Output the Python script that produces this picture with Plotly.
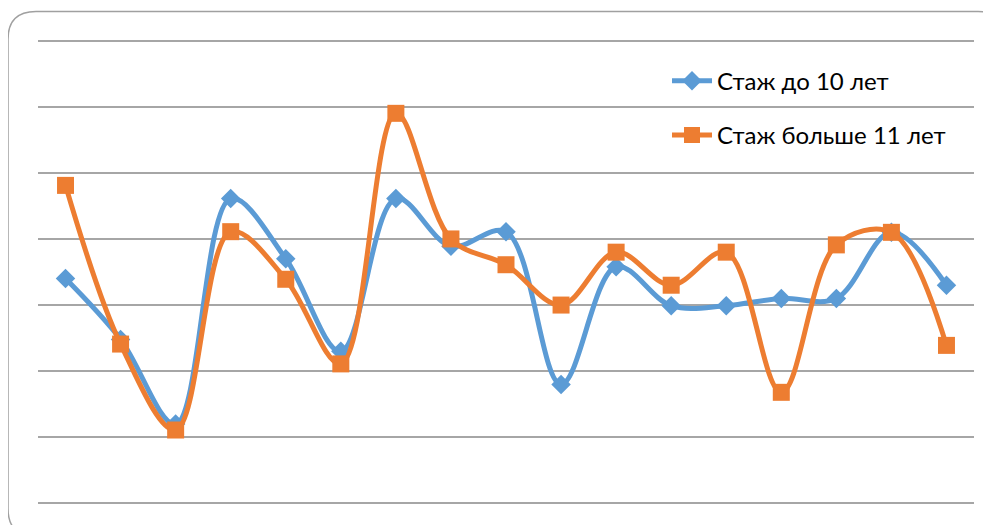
import plotly.graph_objects as go

categories = list(range(1, 18))
stazh_do_10 = [3.40, 2.48, 1.20, 4.61, 3.70, 2.30, 4.61, 3.89, 4.11, 1.80, 3.58, 2.99, 2.99, 3.10, 3.10, 4.10, 3.30]
stazh_bolshe_11 = [4.81, 2.41, 1.11, 4.11, 3.39, 2.11, 5.90, 4.00, 3.61, 3.00, 3.80, 3.30, 3.80, 1.68, 3.91, 4.10, 2.39]
series_names = ["Стаж до 10 лет", "Стаж больше 11 лет"]

W, H = 991, 525
OFF = 7  # page offset of the figure inside the browser window
ml, mt = 37 - OFF, 33.4 - OFF
pw, ph = 936, 475.2
mr, mb = W - ml - pw, H - mt - ph

def px(x):
    return (x - OFF - ml) / pw

def py(y):
    return (H - mb - (y - OFF)) / ph

fig = go.Figure()
fig.add_trace(go.Scatter(
    x=categories, y=stazh_do_10, name=series_names[0], mode="lines+markers",
    line=dict(color="#5B9BD5", width=5, shape="spline", smoothing=1.0),
    marker=dict(symbol="diamond", size=15, color="#5B9BD5"),
    legendgroup="a",
))
fig.add_trace(go.Scatter(
    x=categories, y=stazh_bolshe_11, name=series_names[1], mode="lines+markers",
    line=dict(color="#ED7D31", width=5, shape="spline", smoothing=1.0),
    marker=dict(symbol="square", size=17, color="#ED7D31"),
    legendgroup="b",
))

r = 28
x0, y0, x1, y1 = 7, 11, 1005, 535
path = (f"M {px(x0+r)},{py(y0)} L {px(x1-r)},{py(y0)} Q {px(x1)},{py(y0)} {px(x1)},{py(y0+r)} "
        f"L {px(x1)},{py(y1-r)} Q {px(x1)},{py(y1)} {px(x1-r)},{py(y1)} "
        f"L {px(x0+r)},{py(y1)} Q {px(x0)},{py(y1)} {px(x0)},{py(y1-r)} "
        f"L {px(x0)},{py(y0+r)} Q {px(x0)},{py(y0)} {px(x0+r)},{py(y0)} Z")

fig.update_layout(
    width=W, height=H,
    margin=dict(l=ml, r=mr, t=mt, b=mb),
    paper_bgcolor="white", plot_bgcolor="white",
    font=dict(family="Lato, Liberation Sans, Arial, sans-serif", size=24, color="#000000"),
    xaxis=dict(range=[0.5, 17.5], showgrid=False, zeroline=False, showticklabels=False,
               showline=False, ticks=""),
    yaxis=dict(range=[-0.1, 7.1], tickvals=[0, 1, 2, 3, 4, 5, 6, 7], showgrid=True,
               gridcolor="#A6A6A6", gridwidth=1.5, zeroline=False, showticklabels=False,
               showline=False, ticks=""),
    showlegend=True,
    legend=dict(x=px(666), y=py(58), xanchor="left", yanchor="top",
                bgcolor="rgba(0,0,0,0)", traceorder="grouped", tracegroupgap=20,
                itemwidth=40, font=dict(size=24)),
    shapes=[dict(type="path", xref="paper", yref="paper", path=path,
                 line=dict(color="#A0A0A0", width=1.5), layer="below")],
)

fig.write_html("out.html")
